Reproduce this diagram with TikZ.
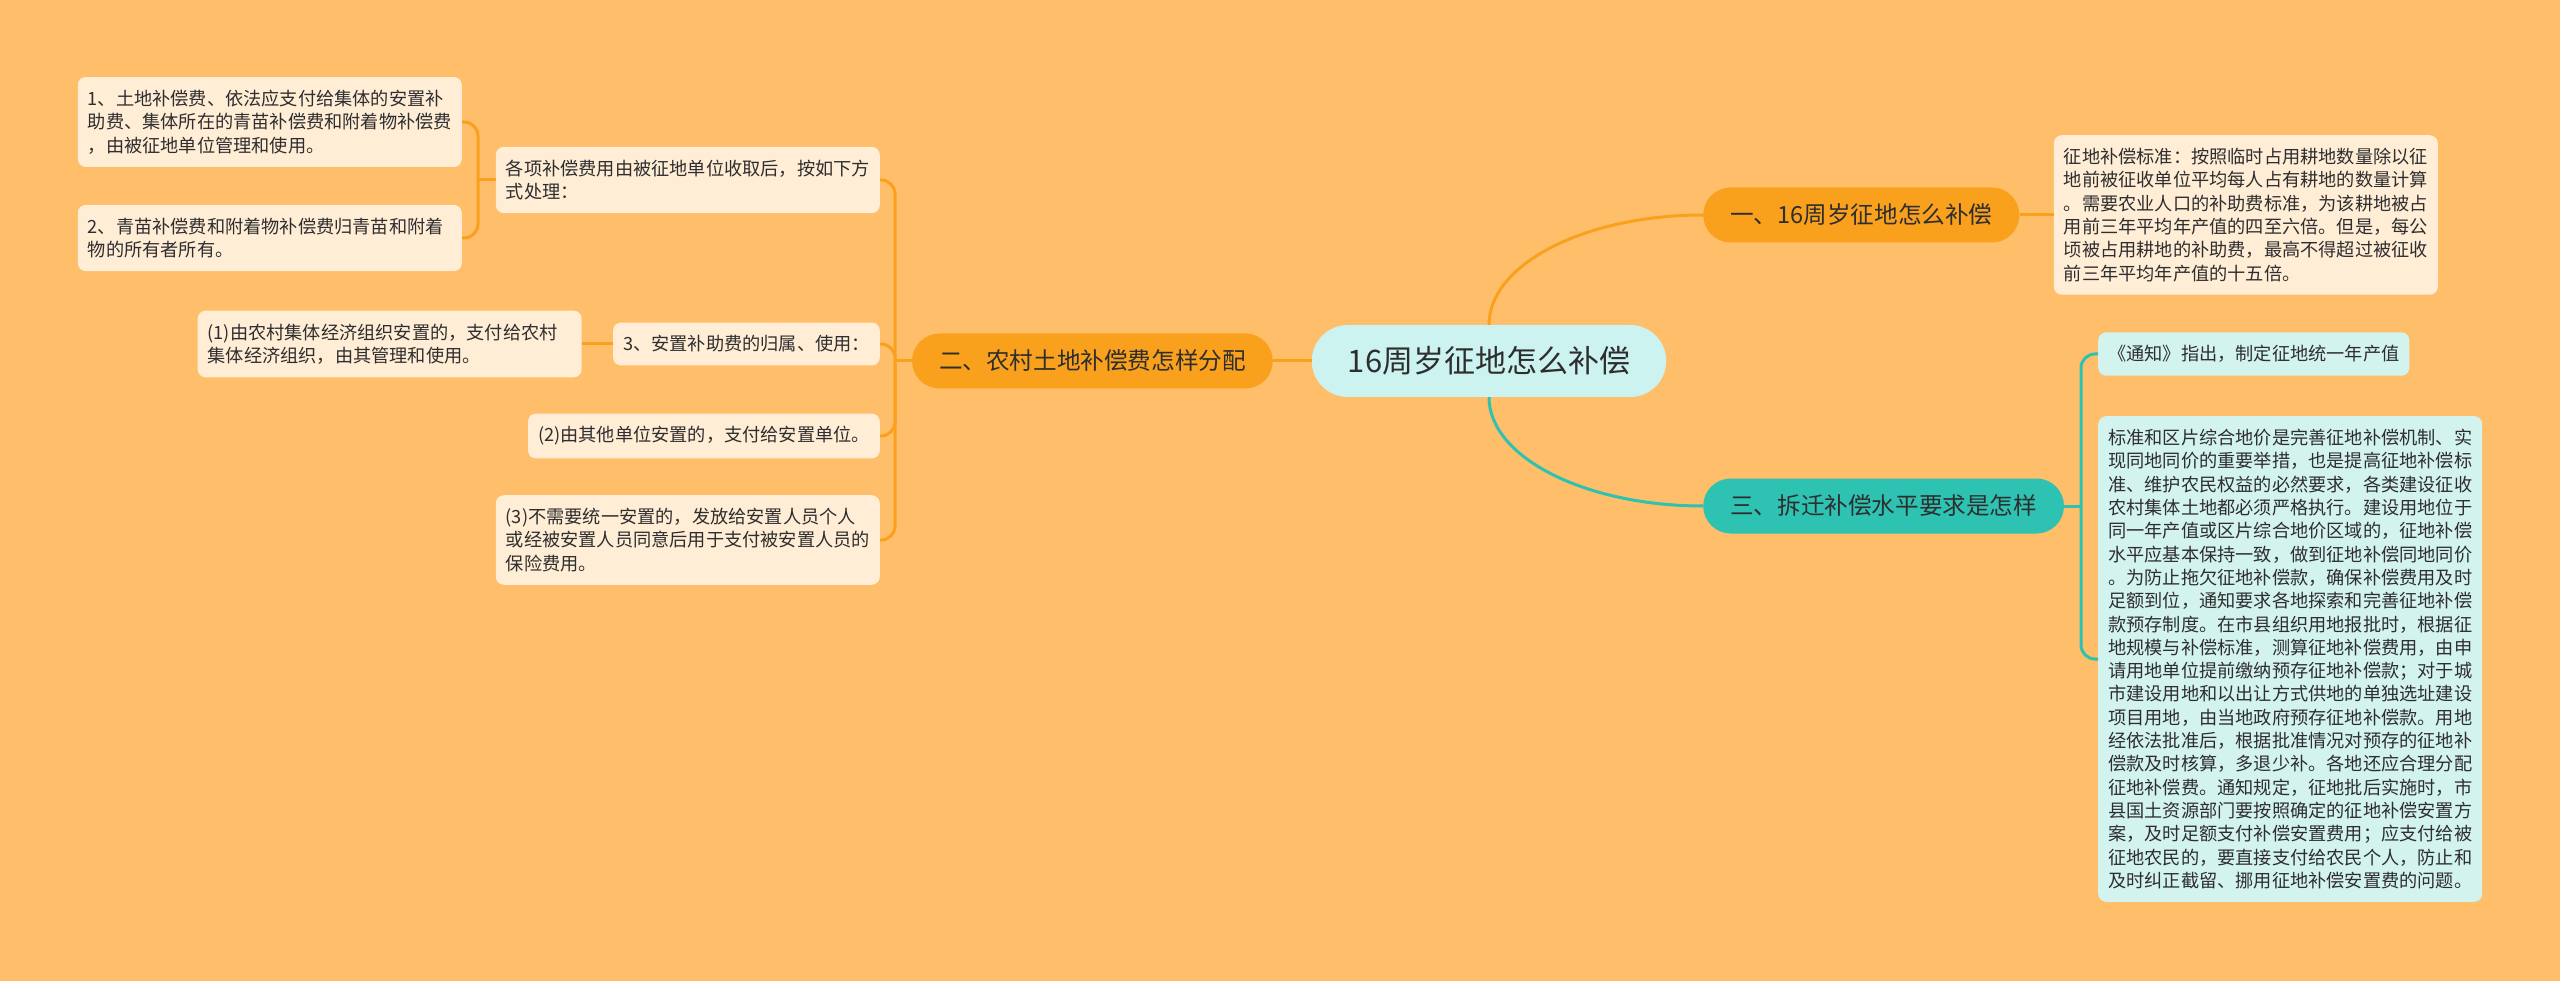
\documentclass[tikz,border=0pt]{standalone}
\usepackage{fontspec}
\setmainfont{Noto Sans CJK SC}
\usepackage{xcolor}
\usepackage{tikz}
\usetikzlibrary{positioning, calc}
\definecolor{mapbg}{HTML}{FFBE6A}
\definecolor{maporange}{HTML}{F9A11D}
\definecolor{mapteal}{HTML}{2EC2B2}
\definecolor{mapcream}{HTML}{FFEDD6}
\definecolor{mapcyan}{HTML}{D3F3EF}
\definecolor{maproot}{HTML}{CCF3F0}
\definecolor{maptext}{HTML}{2E2E2E}
\tikzset{
  mroot/.style={fill=maproot, rounded corners=36pt, minimum height=72pt, inner xsep=36pt, inner ysep=0pt, font=\fontsize{31}{36}\selectfont, text=maptext},
  mbranch/.style={fill=maporange, rounded corners=27.5pt, minimum height=55pt, inner xsep=27pt, inner ysep=0pt, font=\fontsize{23.6}{28}\selectfont, text=maptext},
  mbranchT/.style={mbranch, fill=mapteal},
  mleaf/.style={fill=mapcream, rounded corners=8pt, inner xsep=10pt, inner ysep=13pt, align=left, font=\fontsize{18.2}{23.3}\selectfont, text=maptext},
  mleafT/.style={mleaf, fill=mapcyan},
  mwide/.style={text width=364pt},
  mlink/.style={line width=3pt, maporange},
  mlinkT/.style={mlink, mapteal},
}

\begin{document}
\begin{tikzpicture}[x=1pt, y=-1pt]
    \fill[mapbg] (0,0) rectangle (2560,981);
    \useasboundingbox (0,0) rectangle (2560,981);
    % centre and main branches
    \node[mroot] (root) at (1489,361) {16周岁征地怎么补偿};
    \node[mbranch, anchor=west] (std) at (1703,215) {一、16周岁征地怎么补偿};
    \node[mbranch, anchor=east] (alloc) at (1273,361) {二、农村土地补偿费怎样分配};
    \node[mbranchT, anchor=west] (level) at (1703,506) {三、拆迁补偿水平要求是怎样};
    % right side leaves
    \node[mleaf, mwide, right=34pt of std] (stdtxt) {征地补偿标准：按照临时占用耕地数量除以征\\地前被征收单位平均每人占有耕地的数量计算\\。需要农业人口的补助费标准，为该耕地被占\\用前三年平均年产值的四至六倍。但是，每公\\顷被占用耕地的补助费，最高不得超过被征收\\前三年平均年产值的十五倍。};
    \node[mleafT, anchor=west] (notice) at (2098,354) {《通知》指出，制定征地统一年产值};
    \node[mleafT, mwide, anchor=west] (rule) at (2098,659) {标准和区片综合地价是完善征地补偿机制、实\\现同地同价的重要举措，也是提高征地补偿标\\准、维护农民权益的必然要求，各类建设征收\\农村集体土地都必须严格执行。建设用地位于\\同一年产值或区片综合地价区域的，征地补偿\\水平应基本保持一致，做到征地补偿同地同价\\。为防止拖欠征地补偿款，确保补偿费用及时\\足额到位，通知要求各地探索和完善征地补偿\\款预存制度。在市县组织用地报批时，根据征\\地规模与补偿标准，测算征地补偿费用，由申\\请用地单位提前缴纳预存征地补偿款；对于城\\市建设用地和以出让方式供地的单独选址建设\\项目用地，由当地政府预存征地补偿款。用地\\经依法批准后，根据批准情况对预存的征地补\\偿款及时核算，多退少补。各地还应合理分配\\征地补偿费。通知规定，征地批后实施时，市\\县国土资源部门要按照确定的征地补偿安置方\\案，及时足额支付补偿安置费用；应支付给被\\征地农民的，要直接支付给农民个人，防止和\\及时纠正截留、挪用征地补偿安置费的问题。};
    % left side
    \node[mleaf, mwide, anchor=east] (fees) at (880,180) {各项补偿费用由被征地单位收取后，按如下方\\式处理：};
    \node[mleaf, anchor=east] (aid) at (880,344) {3、安置补助费的归属、使用：};
    \node[mleaf, anchor=east] (other) at (880,436) {(2)由其他单位安置的，支付给安置单位。};
    \node[mleaf, mwide, anchor=east] (self) at (880,540) {(3)不需要统一安置的，发放给安置人员个人\\或经被安置人员同意后用于支付被安置人员的\\保险费用。};
    \node[mleaf, mwide, anchor=east] (landfee) at (462,122) {1、土地补偿费、依法应支付给集体的安置补\\助费、集体所在的青苗补偿费和附着物补偿费\\，由被征地单位管理和使用。};
    \node[mleaf, mwide, anchor=east] (cropfee) at (462,238) {2、青苗补偿费和附着物补偿费归青苗和附着\\物的所有者所有。};
    \node[mleaf, mwide, left=31pt of aid] (collective) {(1)由农村集体经济组织安置的，支付给农村\\集体经济组织，由其管理和使用。};
    % junctions
    \coordinate (jl) at (895,361);
    \coordinate (ja) at (478,180);
    \coordinate (jr) at (2081,506);
    % links
    \draw[mlink] (root.north) .. controls ($(root.north)!0.552!(root.north |- std.west)$) and ($(std.west)!0.552!(root.north |- std.west)$) .. (std.west);
    \draw[mlinkT] (root.south) .. controls ($(root.south)!0.552!(root.south |- level.west)$) and ($(level.west)!0.552!(root.south |- level.west)$) .. (level.west);
    \draw[mlink] (root.west) -- (alloc.east);
    \draw[mlink] (std.east) -- (stdtxt.west);
    \draw[mlinkT] (level.east) -- (jr);
    \foreach \k in {notice, rule}
      \draw[mlinkT, rounded corners=14pt] (jr) |- (\k.west);
    \draw[mlink] (alloc.west) -- (jl);
    \foreach \k in {fees, aid, other, self}
      \draw[mlink, rounded corners=14pt] (jl) |- (\k.east);
    \draw[mlink] (fees.west) -- (ja);
    \foreach \k in {landfee, cropfee}
      \draw[mlink, rounded corners=14pt] (ja) |- (\k.east);
    \draw[mlink] (aid.west) -- (collective.east);
\end{tikzpicture}
\end{document}
